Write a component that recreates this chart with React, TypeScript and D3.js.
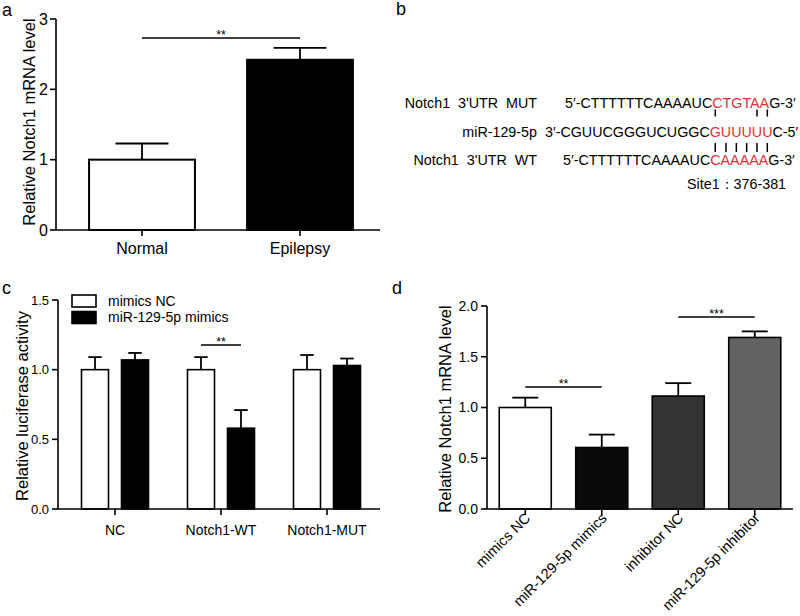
import React, { useEffect, useRef } from "react";
import * as d3 from "d3";

// ---------- Panel a ----------
const aCategories = ["Normal", "Epilepsy"];
const aMeans = [1.0, 2.42];
const aErrors = [0.23, 0.17];
const aFills = ["#ffffff", "#000000"];
const aTicks = [0, 1, 2, 3];

// ---------- Panel b ----------
const bLabels = ["Notch1  3'UTR  MUT", "miR-129-5p", "Notch1  3'UTR  WT"];
const bPrefix = ["5\u2032-CTTTTTTCAAAAUC", "3\u2032-CGUUCGGGUCUGGC", "5\u2032-CTTTTTTCAAAAUC"];
const bSeed = ["CTGTAA", "GUUUUU", "CAAAAA"];
const bSuffix = ["G-3\u2032", "C-5\u2032", "G-3\u2032"];
const bPairsUpper = [0, 4, 5];
const bPairsLower = [0, 1, 2, 3, 4, 5];
const bSite = "Site1\uFF1A376-381";

// ---------- Panel c ----------
const cGroups = ["NC", "Notch1-WT", "Notch1-MUT"];
const cSeries = ["mimics NC", "miR-129-5p mimics"];
const cMimicsNC = [1.0, 1.0, 1.0];
const cMimicsNCErr = [0.09, 0.09, 0.105];
const cMiRMimics = [1.07, 0.58, 1.03];
const cMiRMimicsErr = [0.05, 0.13, 0.05];
const cFills = ["#ffffff", "#000000"];
const cTicks = [0, 0.5, 1.0, 1.5];

// ---------- Panel d ----------
const dCategories = ["mimics NC", "miR-129-5p mimics", "inhibitor NC", "miR-129-5p inhibitor"];
const dMeans = [1.0, 0.606, 1.113, 1.69];
const dErrors = [0.097, 0.127, 0.127, 0.06];
const dFills = ["#ffffff", "#0a0a0a", "#333333", "#626262"];
const dTicks = [0, 0.5, 1.0, 1.5, 2.0];

const FF = "'Liberation Sans', Arial, Helvetica, sans-serif";

export default function App() {
  const ref = useRef<SVGSVGElement | null>(null);

  useEffect(() => {
    const svg = d3.select(ref.current);
    svg.selectAll("*").remove();
    const g = svg.append("g").attr("font-family", FF).attr("fill", "#000");

    const yAxis = (x0: number, y: any, ticks: number[], fmt: (v: number) => string, fs: number, gap: number) => {
      const r = y.range();
      g.append("line").attr("x1", x0).attr("x2", x0).attr("y1", r[0]).attr("y2", r[1])
        .attr("stroke", "#000").attr("stroke-width", 1.6);
      ticks.forEach((t) => {
        g.append("line").attr("x1", x0 - 6).attr("x2", x0).attr("y1", y(t)).attr("y2", y(t))
          .attr("stroke", "#000").attr("stroke-width", 1.6);
        g.append("text").attr("x", x0 - gap).attr("y", y(t)).attr("dy", "0.35em")
          .attr("text-anchor", "end").attr("font-size", fs).text(fmt(t));
      });
    };
    const xAxisLine = (x0: number, x1: number, y0: number, centers: number[]) => {
      g.append("line").attr("x1", x0).attr("x2", x1).attr("y1", y0).attr("y2", y0)
        .attr("stroke", "#000").attr("stroke-width", 1.6);
      centers.forEach((c) => {
        g.append("line").attr("x1", c).attr("x2", c).attr("y1", y0).attr("y2", y0 + 6)
          .attr("stroke", "#000").attr("stroke-width", 1.6);
      });
    };
    const bar = (cx: number, w: number, y: any, v: number, e: number, fill: string, sw: number, capW: number) => {
      const y0 = y(0);
      g.append("line").attr("x1", cx).attr("x2", cx).attr("y1", y(v)).attr("y2", y(v + e))
        .attr("stroke", "#000").attr("stroke-width", 1.8);
      g.append("line").attr("x1", cx - capW / 2).attr("x2", cx + capW / 2).attr("y1", y(v + e)).attr("y2", y(v + e))
        .attr("stroke", "#000").attr("stroke-width", 1.8);
      g.append("rect").attr("x", cx - w / 2).attr("y", y(v)).attr("width", w).attr("height", y0 - y(v))
        .attr("fill", fill).attr("stroke", "#000").attr("stroke-width", sw);
    };
    const sig = (x1: number, x2: number, yy: number, label: string) => {
      g.append("line").attr("x1", x1).attr("x2", x2).attr("y1", yy).attr("y2", yy)
        .attr("stroke", "#000").attr("stroke-width", 1.6);
      g.append("text").attr("x", (x1 + x2) / 2).attr("y", yy + 1).attr("text-anchor", "middle")
        .attr("font-size", 12.5).text(label);
    };
    const yLabel = (x: number, yc: number, label: string, fs: number) => {
      g.append("text").attr("transform", `translate(${x},${yc}) rotate(-90)`)
        .attr("text-anchor", "middle").attr("dy", "0.35em").attr("font-size", fs).text(label);
    };
    const panelLabel = (x: number, y: number, t: string) => {
      g.append("text").attr("x", x).attr("y", y).attr("font-size", 18).text(t);
    };

    // ===== Panel a =====
    panelLabel(2, 16, "a");
    const ya = d3.scaleLinear().domain([0, 3]).range([230, 19]);
    const xa = d3.scalePoint<string>().domain(aCategories).range([63, 379]).padding(0.5);
    const bwA = xa.step() * 0.67;
    aCategories.forEach((c, i) => bar(xa(c)!, bwA, ya, aMeans[i], aErrors[i], aFills[i], 2, bwA / 2));
    yAxis(56, ya, aTicks, (v) => d3.format("d")(v), 16, 8);
    xAxisLine(56, 380, 230, aCategories.map((c) => xa(c)!));
    aCategories.forEach((c) => {
      g.append("text").attr("x", xa(c)!).attr("y", 254).attr("text-anchor", "middle").attr("font-size", 16).text(c);
    });
    yLabel(29, 122, "Relative Notch1 mRNA level", 16.5);
    sig(xa(aCategories[0])!, xa(aCategories[1])!, 38, "**");

    // ===== Panel b =====
    panelLabel(396, 15, "b");
    const bBase = [108, 136.5, 165];
    const bStart = [565, 545, 563];
    const bFs = 14.3;
    const seqNodes: SVGTextElement[] = [];
    bLabels.forEach((lab, i) => {
      g.append("text").attr("x", 537).attr("y", bBase[i]).attr("text-anchor", "end")
        .attr("font-size", bFs).style("white-space", "pre").text(lab);
      const t = g.append("text").attr("x", bStart[i]).attr("y", bBase[i]).attr("font-size", bFs);
      t.append("tspan").text(bPrefix[i]);
      t.append("tspan").attr("fill", "#e0303a").text(bSeed[i]);
      t.append("tspan").text(bSuffix[i]);
      seqNodes.push(t.node() as SVGTextElement);
    });
    g.append("text").attr("x", 687).attr("y", 189).attr("font-size", bFs).text(bSite);
    const mir = seqNodes[1];
    const charCenter = (k: number) => {
      try {
        const ext = mir.getExtentOfChar(bPrefix[1].length + k);
        return ext.x + ext.width / 2;
      } catch (e) {
        return 712 + k * 10.2 + 5;
      }
    };
    bPairsUpper.forEach((k) => {
      const cx = charCenter(k);
      g.append("line").attr("x1", cx).attr("x2", cx).attr("y1", 109.5).attr("y2", 116.5)
        .attr("stroke", "#000").attr("stroke-width", 1.5);
    });
    bPairsLower.forEach((k) => {
      const cx = charCenter(k);
      g.append("line").attr("x1", cx).attr("x2", cx).attr("y1", 143).attr("y2", 152)
        .attr("stroke", "#000").attr("stroke-width", 1.5);
    });

    // ===== Panel c =====
    panelLabel(2, 294, "c");
    const yc = d3.scaleLinear().domain([0, 1.5]).range([509, 300]);
    const xc = d3.scalePoint<string>().domain(cGroups).range([62, 380]).padding(0.5);
    const xcInner = d3.scaleBand<string>().domain(cSeries).range([-33.5, 33.5]).paddingInner(0.325);
    const cVals = [cMimicsNC, cMiRMimics];
    const cErrs = [cMimicsNCErr, cMiRMimicsErr];
    cGroups.forEach((grp, gi) => {
      cSeries.forEach((s, si) => {
        const cx = xc(grp)! + xcInner(s)! + xcInner.bandwidth() / 2;
        bar(cx, xcInner.bandwidth(), yc, cVals[si][gi], cErrs[si][gi], cFills[si], 1.6, xcInner.bandwidth() / 2);
      });
    });
    yAxis(58, yc, cTicks, (v) => d3.format(".1f")(v), 13, 9);
    xAxisLine(58, 380, 509, cGroups.map((c) => xc(c)!));
    cGroups.forEach((c) => {
      g.append("text").attr("x", xc(c)!).attr("y", 535).attr("text-anchor", "middle").attr("font-size", 14).text(c);
    });
    yLabel(22, 406, "Relative luciferase activity", 16.5);
    {
      const grp = cGroups[1];
      const x1 = xc(grp)! + xcInner(cSeries[0])! + xcInner.bandwidth() / 2;
      const x2 = xc(grp)! + xcInner(cSeries[1])! + xcInner.bandwidth() / 2;
      sig(x1, x2, 345, "**");
    }
    cSeries.forEach((s, i) => {
      const yy = 295 + i * 16.5;
      g.append("rect").attr("x", 72).attr("y", yy).attr("width", 24).attr("height", 12)
        .attr("fill", cFills[i]).attr("stroke", "#000").attr("stroke-width", 1.6);
      g.append("text").attr("x", 108).attr("y", yy + 6).attr("dy", "0.35em").attr("font-size", 14).text(s);
    });

    // ===== Panel d =====
    panelLabel(392, 294, "d");
    const yd = d3.scaleLinear().domain([0, 2]).range([509, 306]);
    const xd = d3.scalePoint<string>().domain(dCategories).range([487, 793]).padding(0.5);
    const bwD = xd.step() * 0.68;
    dCategories.forEach((c, i) => bar(xd(c)!, bwD, yd, dMeans[i], dErrors[i], dFills[i], 1.6, bwD / 2));
    yAxis(487, yd, dTicks, (v) => d3.format(".1f")(v), 14, 9);
    xAxisLine(487, 793, 509, dCategories.map((c) => xd(c)!));
    dCategories.forEach((c) => {
      g.append("text").attr("transform", `translate(${xd(c)! + 6},${519}) rotate(-45)`)
        .attr("text-anchor", "end").attr("font-size", 14.5).text(c);
    });
    yLabel(445, 409, "Relative Notch1 mRNA level", 16.5);
    sig(xd(dCategories[0])!, xd(dCategories[1])!, 387, "**");
    sig(xd(dCategories[2])!, xd(dCategories[3])!, 317, "***");
  }, []);

  return (
    <svg
      ref={ref}
      width={800}
      height={616}
      viewBox="0 0 800 616"
      style={{ position: "absolute", left: 0, top: 0, background: "#fff" }}
    />
  );
}
